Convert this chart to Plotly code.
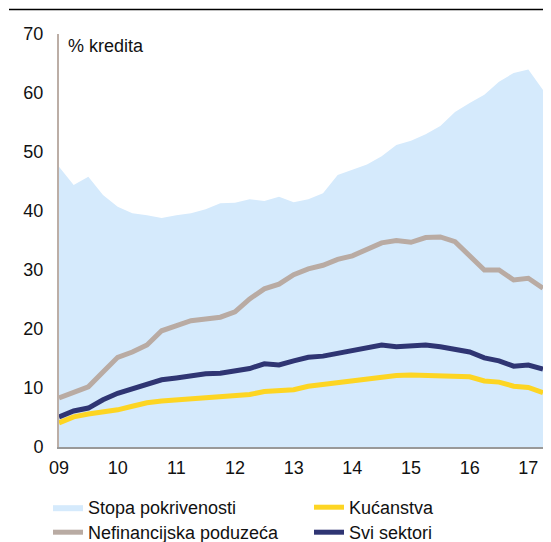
import plotly.graph_objects as go

quarters = [2009 + i * 0.25 for i in range(34)]

stopa = [47.5, 44.4, 45.8, 42.7, 40.7, 39.6, 39.3, 38.8, 39.3, 39.6, 40.3, 41.3,
         41.4, 42.0, 41.7, 42.4, 41.5, 42.0, 43.0, 46.1, 47.0, 47.9, 49.3, 51.2,
         51.9, 53.0, 54.4, 56.8, 58.3, 59.7, 61.9, 63.4, 64.0, 60.5]
nefin = [8.3, 9.3, 10.2, 12.7, 15.2, 16.1, 17.3, 19.7, 20.5, 21.4, 21.7, 22.0,
         22.9, 25.1, 26.8, 27.6, 29.2, 30.2, 30.8, 31.8, 32.4, 33.4, 34.6, 35.0,
         34.7, 35.5, 35.6, 34.8, 32.3, 30.0, 30.0, 28.3, 28.6, 26.9]
kucan = [4.1, 5.1, 5.6, 5.9, 6.3, 6.9, 7.5, 7.8, 8.0, 8.1, 8.5, 8.6,
         8.8, 8.9, 9.4, 9.5, 9.7, 10.3, 10.6, 11.1, 11.4, 11.7, 12.0, 12.1,
         12.2, 12.1, 12.1, 12.1, 11.9, 11.2, 11.0, 10.3, 10.1, 9.2]
svi = [5.1, 6.1, 6.6, 8.0, 9.1, 9.8, 10.5, 11.4, 11.7, 12.1, 12.4, 12.5,
       12.8, 13.3, 14.1, 13.9, 14.6, 15.2, 15.4, 15.9, 16.3, 16.8, 17.3, 17.0,
       17.1, 17.3, 17.0, 16.6, 16.1, 15.1, 14.6, 13.7, 13.9, 13.2]

tick_vals = [2009, 2010, 2011, 2012, 2013, 2014, 2015, 2016, 2017]
tick_text = ["09", "10", "11", "12", "13", "14", "15", "16", "17"]

FONT = "Liberation Sans, Arial, sans-serif"

# page body has an 8px margin, so the figure is sized/positioned accordingly
W, H = 543, 534
L, R, T, B = 51, 8, 26, 95
PW, PH = W - L - R, H - T - B

fig = go.Figure()
fig.add_trace(go.Scatter(x=quarters, y=stopa, name="Stopa pokrivenosti",
                         mode="lines", fill="tozeroy", fillcolor="#d5eafc",
                         line=dict(width=0, color="#d5eafc"), legend="legend"))
fig.add_trace(go.Scatter(x=quarters, y=kucan, name="Kućanstva", mode="lines",
                         line=dict(width=5, color="#fdd523"), legend="legend2"))
fig.add_trace(go.Scatter(x=quarters, y=nefin, name="Nefinancijska poduzeća", mode="lines",
                         line=dict(width=5, color="#b9aba3"), legend="legend3"))
fig.add_trace(go.Scatter(x=quarters, y=svi, name="Svi sektori", mode="lines",
                         line=dict(width=5, color="#2f3573"), legend="legend4"))

legend_common = dict(orientation="h", xanchor="left", xref="container",
                     yanchor="top", yref="container",
                     font=dict(size=18, family=FONT), bgcolor="rgba(0,0,0,0)",
                     tracegroupgap=0)
COL1, COL2 = 40 / W, 301 / W
ROW1, ROW2 = 1 - 481 / H, 1 - 506 / H

fig.update_layout(
    width=W, height=H,
    margin=dict(l=L, r=R, t=T, b=B, autoexpand=False),
    paper_bgcolor="white", plot_bgcolor="white",
    font=dict(family=FONT, size=18, color="#111"),
    showlegend=True,
    legend=dict(legend_common, x=COL1, y=ROW1),
    legend2=dict(legend_common, x=COL2, y=ROW1),
    legend3=dict(legend_common, x=COL1, y=ROW2),
    legend4=dict(legend_common, x=COL2, y=ROW2),
    xaxis=dict(range=[2009, 2017.25], tickvals=tick_vals, ticktext=tick_text,
               showgrid=False, zeroline=False, showline=True, linecolor="#999999",
               linewidth=2, ticks="", ticklabelstandoff=3),
    yaxis=dict(range=[0, 70], dtick=10, showgrid=False, zeroline=False,
               showline=True, linecolor="#bcaea6", linewidth=2, ticks="",
               ticklabelstandoff=10),
    annotations=[dict(text="% kredita", xref="paper", yref="paper", x=0, y=1,
                      xanchor="left", yanchor="top", xshift=7, yshift=0,
                      showarrow=False, font=dict(size=18, family=FONT))],
    shapes=[dict(type="line", xref="paper", yref="paper",
                 x0=-(L - 1) / PW, x1=1 + (R - 0.5) / PW,
                 y0=1.0 + (T - 1.5) / PH, y1=1.0 + (T - 1.5) / PH,
                 line=dict(color="black", width=1.5))],
)

fig.write_html("out.html")
